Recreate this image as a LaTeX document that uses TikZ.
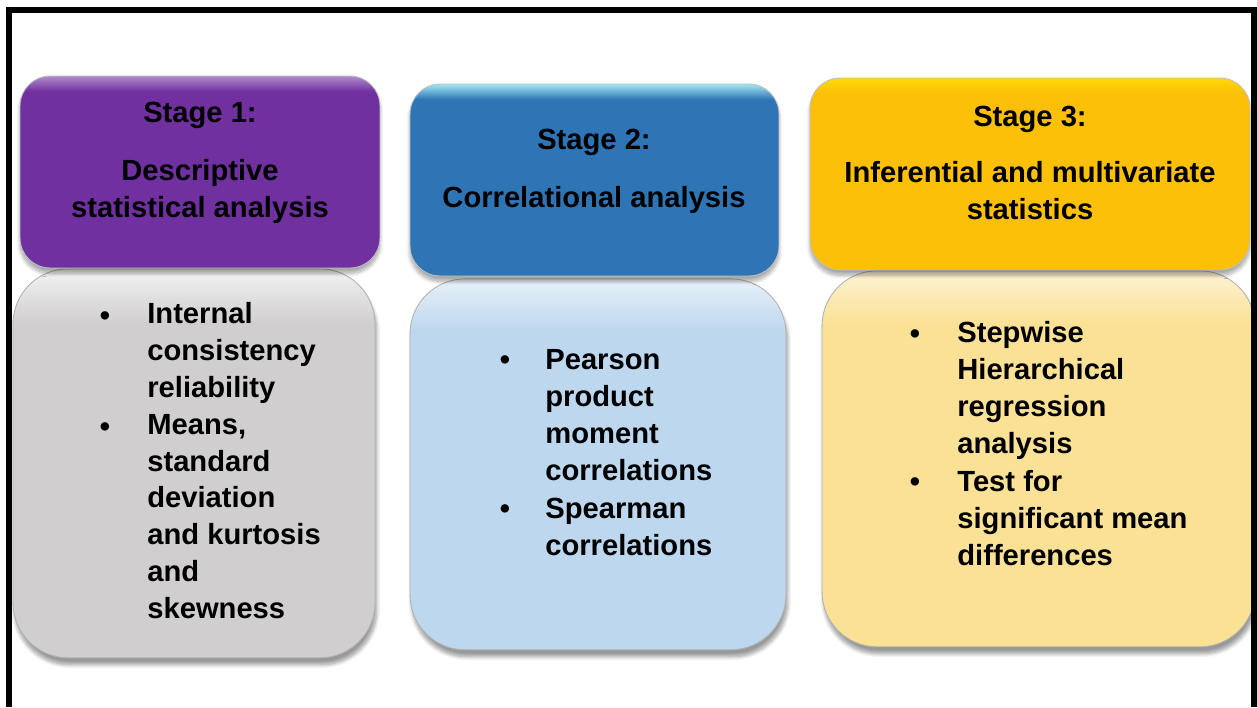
\documentclass[tikz,border=0pt]{standalone}
\usepackage{fontspec}
\setmainfont{Liberation Sans}
\usetikzlibrary{positioning,shadows.blur}

\definecolor{purplehead}{RGB}{112,48,160}
\definecolor{bluehead}{RGB}{46,117,182}
\definecolor{goldhead}{RGB}{253,192,8}
\definecolor{greybody}{RGB}{208,206,206}
\definecolor{bluebody}{RGB}{189,215,238}
\definecolor{goldbody}{RGB}{250,225,150}

% lighter band along the top edge
\pgfdeclareverticalshading{purplesh}{100bp}{color(0bp)=(purplehead); color(71bp)=(purplehead); color(75bp)=(purplehead!55!white); color(100bp)=(purplehead!55!white)}
\pgfdeclareverticalshading{bluesh}{100bp}{color(0bp)=(bluehead); color(71bp)=(bluehead); color(75bp)=(bluehead!45!cyan!40!white); color(100bp)=(bluehead!45!cyan!40!white)}
\pgfdeclareverticalshading{goldsh}{100bp}{color(0bp)=(goldhead); color(71bp)=(goldhead); color(75bp)=(goldhead!60!yellow); color(100bp)=(goldhead!60!yellow)}
\pgfdeclareverticalshading{greysh}{100bp}{color(0bp)=(greybody); color(68bp)=(greybody); color(75bp)=(greybody!25!white); color(100bp)=(greybody!25!white)}
\pgfdeclareverticalshading{bluebsh}{100bp}{color(0bp)=(bluebody); color(68bp)=(bluebody); color(75bp)=(bluebody!35!white); color(100bp)=(bluebody!35!white)}
\pgfdeclareverticalshading{goldbsh}{100bp}{color(0bp)=(goldbody); color(68bp)=(goldbody); color(75bp)=(goldbody!40!white); color(100bp)=(goldbody!40!white)}

\pgfdeclarelayer{background}
\pgfsetlayers{background,main}

\newcommand{\boxfont}{\fontsize{16.6}{20.9}\selectfont\bfseries}

\tikzset{
	headbox/.style={rectangle, rounded corners=0.6cm, draw=black!25, line width=0.5pt,
		minimum height=3.84cm, inner sep=0pt,
		blur shadow={shadow xshift=0pt, shadow yshift=-3pt, shadow blur steps=8, shadow opacity=35}},
	bodybox/.style={rectangle, rounded corners=1.1cm, draw=black!30, line width=0.5pt,
		inner sep=0pt,
		blur shadow={shadow xshift=1pt, shadow yshift=-4pt, shadow blur steps=8, shadow opacity=40}},
	headtxt/.style={font=\boxfont, align=center, anchor=base, inner sep=0pt},
	itemtxt/.style={font=\boxfont, align=left, anchor=base west, inner sep=0pt},
	dot/.style={font=\boxfont, anchor=base, inner sep=0pt},
}

\begin{document}
\begin{tikzpicture}[x=0.02cm, y=-0.02cm]
	\useasboundingbox (0,0) rectangle (1257,707);

	% frame, open at the bottom
	\draw[line width=3.4pt] (9,707) -- (9,10) -- (1254,10) -- (1254,707);

	% headers
	\node[headbox, shading=purplesh, minimum width=7.2cm] (s1head) at (200,172) {};
	\node[headbox, shading=bluesh, minimum width=7.38cm] (s2head) at (594.5,180) {};
	\node[headbox, shading=goldsh, minimum width=8.8cm] (s3head) at (1030,174) {};

	% bodies, behind the headers
	\begin{pgfonlayer}{background}
	\node[bodybox, shading=greysh, minimum width=7.24cm, minimum height=7.78cm,
		below=0pt of s1head, xshift=-0.12cm] (s1body) {};
	\node[bodybox, shading=bluebsh, minimum width=7.52cm, minimum height=7.42cm,
		below=0.04cm of s2head, xshift=0.07cm] (s2body) {};
	\node[bodybox, shading=goldbsh, minimum width=8.66cm, minimum height=7.52cm,
		below=0pt of s3head, xshift=0.17cm] (s3body) {};
	\end{pgfonlayer}

	% header texts (base = last line)
	\node[headtxt] (s1title) at (200,217) {Stage 1:\\[12pt]Descriptive\\statistical analysis};
	\node[headtxt] (s2title) at (594,207) {Stage 2:\\[12pt]Correlational analysis};
	\node[headtxt] (s3title) at (1030,219) {Stage 3:\\[11pt]Inferential and multivariate\\statistics};

	% stage 1 items
	\node[dot] (s1d1) at (105,325) {\textbullet};
	\node[itemtxt] (s1i1) at (147,397) {Internal\\consistency\\reliability};
	\node[dot] (s1d2) at (105,436) {\textbullet};
	\node[itemtxt] (s1i2) at (147,618) {Means,\\standard\\deviation\\and kurtosis\\and\\skewness};

	% stage 2 items
	\node[dot] (s2d1) at (505,369) {\textbullet};
	\node[itemtxt] (s2i1) at (545,480) {Pearson\\product\\moment\\correlations};
	\node[dot] (s2d2) at (505,518) {\textbullet};
	\node[itemtxt] (s2i2) at (545,555) {Spearman\\correlations};

	% stage 3 items
	\node[dot] (s3d1) at (915,343) {\textbullet};
	\node[itemtxt] (s3i1) at (957,453) {Stepwise\\Hierarchical\\regression\\analysis};
	\node[dot] (s3d2) at (915,491) {\textbullet};
	\node[itemtxt] (s3i2) at (957,565) {Test for\\significant mean\\differences};
\end{tikzpicture}
\end{document}
